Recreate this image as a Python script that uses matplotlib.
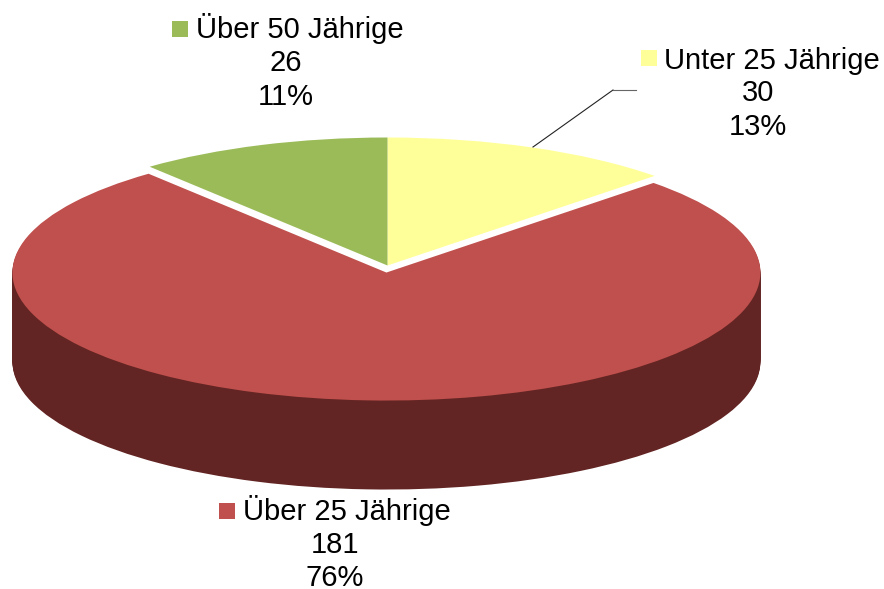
import numpy as np
import matplotlib
matplotlib.use('Agg')
import matplotlib.pyplot as plt
from matplotlib.patches import Rectangle

plt.rcParams['font.family'] = 'Liberation Sans'

groups = ['Unter 25 Jährige', 'Über 25 Jährige', 'Über 50 Jährige']
counts = [30, 181, 26]
shares = ['13%', '76%', '11%']
colors = ['#FFFF99', '#C0504D', '#9BBB59']
side_color = '#632523'

W, H = 884, 589
# pie centre and radii in pixels, the pie is squashed to look tilted
cx, cy = 387.5, 265.5
rx, ry = 374, 128
depth = 89
gap = 0.055

fig = plt.figure(figsize=(W / 100, H / 100), dpi=100)
ax = fig.add_axes([0, 0, 1, 1])

# side wall of the red slice: same wedge stacked downwards
for d in np.arange(depth, 0, -1):
    ax.pie(counts, startangle=90, counterclock=False,
           explode=[0, gap, 0], center=(0, -d / ry),
           colors=['none', side_color, 'none'],
           wedgeprops={'linewidth': 0})

ax.pie(counts, startangle=90, counterclock=False,
       explode=[0, gap, 0], colors=colors,
       wedgeprops={'linewidth': 0})

ax.set_aspect('auto')
ax.set_xlim(-cx / rx, (W - cx) / rx)
ax.set_ylim((cy - H) / ry, cy / ry)
ax.axis('off')


def px(x, y):
    return x / W, 1 - y / H


# label positions: swatch left, text left, centre of lines 2/3, three baselines
labels = [
    (0, 641, 664, 758, (69, 101, 135), 50),
    (1, 219, 243, 335, (520, 553, 586), 503),
    (2, 172, 196, 286, (38, 71, 105), 21),
]
for i, sx, tx, mx, ys, sy in labels:
    x0, y0 = px(sx, sy + 16)
    fig.add_artist(Rectangle((x0, y0), 16 / W, 16 / H, transform=fig.transFigure,
                             facecolor=colors[i], edgecolor='none'))
    fig.text(*px(tx, ys[0]), groups[i], fontsize=21, ha='left', va='baseline')
    fig.text(*px(mx, ys[1]), str(counts[i]), fontsize=21, ha='center', va='baseline')
    fig.text(*px(mx, ys[2]), shares[i], fontsize=21, ha='center', va='baseline')

# leader line for the yellow slice
lx, ly = zip(*[px(533, 147), px(613, 90)])
fig.add_artist(plt.Line2D(lx, ly, transform=fig.transFigure, color='#222222', lw=0.8))
lx, ly = zip(*[px(613, 90), px(636, 90)])
fig.add_artist(plt.Line2D(lx, ly, transform=fig.transFigure, color='#666666', lw=0.8))

fig.savefig('out.png', dpi=100)
